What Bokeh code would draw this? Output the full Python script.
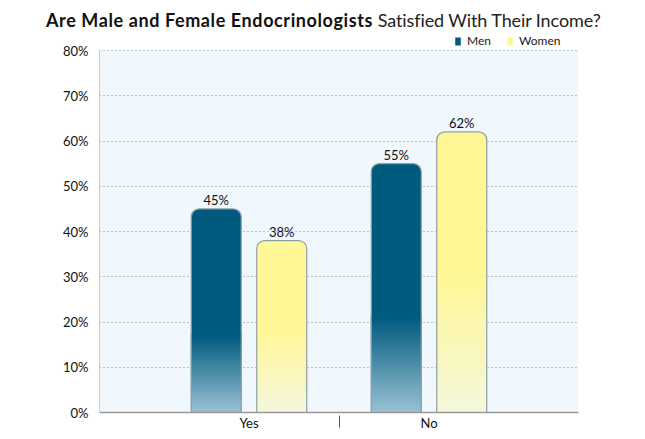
from bokeh.plotting import figure
from bokeh.layouts import column
from bokeh.models import (FactorRange, Range1d, Legend, LegendItem, BoxAnnotation, Div,
                          ColumnDataSource, PrintfTickFormatter, FixedTicker)
from bokeh.core.properties import value
from bokeh.embed import file_html
from bokeh.resources import INLINE

categories = ["Yes", "No"]
series = ["Men", "Women"]
men = [45, 55]
women = [38, 62]
y_ticks = [0, 10, 20, 30, 40, 50, 60, 70, 80]
title_bold = "Are Male and Female Endocrinologists"
title_rest = "Satisfied With Their Income?"

FONT = "Lato"
RULE_COLOR = "#1b80a8"
top_colors = {"Men": (0x00, 0x5a, 0x7e), "Women": (0xff, 0xf7, 0x96)}
bottom_colors = {"Men": (0x98, 0xc1, 0xd2), "Women": (0xf4, 0xf7, 0xdc)}
grad_frac = {"Men": 0.39, "Women": 0.5}
BAR_W = 0.763
NSLICE = 30

# thin teal rule above the title
rule = figure(width=559, height=2, output_backend="svg", toolbar_location=None,
              x_axis_type=None, y_axis_type=None, min_border=0, margin=(7, 0, 0, 43),
              x_range=Range1d(0, 1), y_range=Range1d(0, 1))
rule.background_fill_color = RULE_COLOR
rule.border_fill_color = RULE_COLOR
rule.outline_line_color = None
rule.grid.visible = False

header = Div(text=(
    '<div style="padding:1px 0 0 46px;margin:0;font-family:Lato;font-size:18px;line-height:20px;'
    'color:#111111;white-space:nowrap;">'
    f'<span style="font-weight:bold;letter-spacing:0.6px;">{title_bold}</span> '
    f'<span style="color:#222222;letter-spacing:-0.1px;">{title_rest}</span></div>'),
    width=629, height=21, margin=(0, 0, 0, 0))

factors = [(c, s) for c in categories for s in series]
p = figure(width=629, height=406, output_backend="svg", toolbar_location=None,
           x_range=FactorRange(factors=factors, factor_padding=0, group_padding=0.748,
                               range_padding=0.54, range_padding_units="percent"),
           y_range=Range1d(0, 84.42),
           min_border_left=99, min_border_right=51, min_border_top=0, min_border_bottom=24,
           margin=(0, 0, 0, 0))
p.background_fill_color = "white"
p.border_fill_color = "white"
p.outline_line_color = None

p.add_layout(BoxAnnotation(bottom=0, top=80, fill_color="#f0f8fd", fill_alpha=1,
                           line_color=None, level="image"))

def hexc(c):
    return "#%02x%02x%02x" % tuple(int(round(v)) for v in c)

legend_items = []
for s, vals in (("Men", men), ("Women", women)):
    keys = [(c, s) for c in categories]
    xs, bots, tops, cols = [], [], [], []
    for key, v in zip(keys, vals):
        g = v * grad_frac[s]
        for i in range(NSLICE):
            t = i / (NSLICE - 1)
            c = [bottom_colors[s][k] + (top_colors[s][k] - bottom_colors[s][k]) * t for k in range(3)]
            xs.append(key)
            bots.append(g * i / NSLICE)
            tops.append(g * (i + 1) / NSLICE)
            cols.append(hexc(c))
    src = ColumnDataSource(dict(x=xs, bottom=bots, top=tops, color=cols))
    p.vbar(x="x", width=BAR_W, bottom="bottom", top="top",
           source=src, fill_color="color", line_color="color", line_width=1)
    solid_src = ColumnDataSource(dict(x=keys, bottom=[v * grad_frac[s] for v in vals], top=vals))
    solid = p.vbar(x="x", width=BAR_W, bottom="bottom", top="top",
                   source=solid_src, fill_color=hexc(top_colors[s]), line_color=None,
                   border_radius=(8, 8, 0, 0))
    out_src = ColumnDataSource(dict(x=keys, top=vals, lab=[f"{v}%" for v in vals]))
    p.vbar(x="x", width=BAR_W, bottom=0, top="top",
           source=out_src, fill_color=None, line_color="#8e9ea8", line_width=1.2,
           border_radius=(8, 8, 0, 0))
    p.text(x="x", y="top", text="lab", source=out_src,
           text_align="center", text_baseline="bottom", y_offset=-1,
           text_font=value(FONT), text_font_size="13px", text_color="#111111")
    legend_items.append(LegendItem(label=s, renderers=[solid]))

legend = Legend(items=legend_items, orientation="horizontal", location=(355, 364),
                padding=0, margin=0, spacing=15, label_standoff=6,
                glyph_width=7, glyph_height=10, label_height=14,
                label_text_font=FONT, label_text_font_size="12px", label_text_color="#222222",
                background_fill_alpha=0, border_line_color=None)
p.add_layout(legend, "center")

p.xgrid.grid_line_color = None
p.ygrid.grid_line_color = "#8a8a8a"
p.ygrid.grid_line_dash = "1 3"
p.ygrid.ticker = FixedTicker(ticks=y_ticks)

p.yaxis.ticker = FixedTicker(ticks=y_ticks)
p.yaxis.bounds = (0, 80)
p.yaxis.formatter = PrintfTickFormatter(format="%d%%")
p.yaxis.axis_line_color = "#c8ccd0"
p.yaxis.major_tick_line_color = None
p.yaxis.major_tick_out = 0
p.yaxis.major_tick_in = 0
p.yaxis.minor_tick_line_color = None
p.yaxis.minor_tick_out = 0
p.yaxis.major_label_standoff = 11
p.yaxis.major_label_text_font = FONT
p.yaxis.major_label_text_font_size = "13px"
p.yaxis.major_label_text_color = "#111111"

xa = p.xaxis[0]
xa.axis_line_color = "#999999"
xa.axis_line_width = 1.5
xa.major_tick_line_color = None
xa.major_tick_out = 0
xa.major_tick_in = 0
xa.major_label_standoff = 2
xa.major_label_text_font_size = "0px"
xa.major_label_text_alpha = 0
xa.group_text_font = FONT
xa.group_text_font_size = "13px"
xa.group_text_font_style = "normal"
xa.group_text_color = "#111111"
xa.group_label_orientation = "horizontal"
xa.separator_line_color = "#555555"
xa.separator_line_width = 1

layout = column(rule, header, p, spacing=0)
open("out.html", "w").write(file_html(layout, INLINE))
